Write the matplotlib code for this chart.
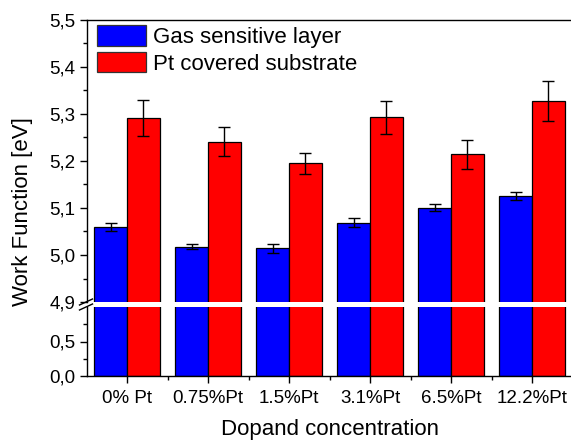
import matplotlib
matplotlib.use("Agg")
import matplotlib.pyplot as plt
import numpy as np
from matplotlib.ticker import FuncFormatter, MultipleLocator, FixedLocator
from matplotlib.lines import Line2D

plt.rcParams['font.family'] = ['Liberation Sans', 'DejaVu Sans']

categories = ["0% Pt", "0.75%Pt", "1.5%Pt", "3.1%Pt", "6.5%Pt", "12.2%Pt"]
gas_layer = [5.060, 5.018, 5.014, 5.069, 5.101, 5.126]
gas_err = [0.008, 0.006, 0.009, 0.009, 0.007, 0.008]
pt_substrate = [5.291, 5.241, 5.195, 5.293, 5.214, 5.328]
pt_err = [0.038, 0.031, 0.023, 0.035, 0.031, 0.043]
series_labels = ["Gas sensitive layer", "Pt covered substrate"]

W, H = 571, 441
fig = plt.figure(figsize=(W / 100, H / 100), dpi=100)

left_px, right_px = 86.5, 572.6
up_top, up_bot = 20, 302
lo_top, lo_bot = 307, 376

def rect(top, bot):
    return [left_px / W, 1 - bot / H, (right_px - left_px) / W, (bot - top) / H]

ax_up = fig.add_axes(rect(up_top, up_bot))
ax_lo = fig.add_axes(rect(lo_top, lo_bot), sharex=ax_up)

x = np.arange(len(categories))
bw = 0.405
blue = "#0000FF"
red = "#FF0000"

for ax in (ax_up, ax_lo):
    ax.bar(x - bw / 2, gas_layer, bw, color=blue, edgecolor="black", linewidth=0.9, label=series_labels[0], zorder=2)
    ax.bar(x + bw / 2, pt_substrate, bw, color=red, edgecolor="black", linewidth=0.9, label=series_labels[1], zorder=2)

ax_up.errorbar(x - bw / 2, gas_layer, yerr=gas_err, fmt="none", ecolor="black", elinewidth=1, capsize=4, capthick=1, zorder=3)
ax_up.errorbar(x + bw / 2, pt_substrate, yerr=pt_err, fmt="none", ecolor="black", elinewidth=1, capsize=4, capthick=1, zorder=3)

ax_up.set_xlim(-0.5, 5.5)
ax_up.set_ylim(4.9, 5.5)
ax_lo.set_ylim(0, 1.0)

comma = FuncFormatter(lambda v, p: f"{v:.1f}".replace(".", ","))

ax_up.yaxis.set_major_locator(MultipleLocator(0.1))
ax_up.yaxis.set_minor_locator(MultipleLocator(0.05))
ax_up.yaxis.set_major_formatter(comma)
ax_lo.yaxis.set_major_locator(FixedLocator([0.0, 0.5]))
ax_lo.yaxis.set_minor_locator(FixedLocator([0.25, 0.75]))
ax_lo.yaxis.set_major_formatter(comma)

ax_lo.set_xticks(x)
ax_lo.set_xticklabels(categories)
ax_lo.xaxis.set_minor_locator(FixedLocator(x[:-1] + 0.5))

for ax in (ax_up, ax_lo):
    ax.spines["right"].set_visible(False)
    for s in ax.spines.values():
        s.set_linewidth(1.0)
    ax.tick_params(axis="both", which="major", direction="out", length=5, width=1, labelsize=13.5, pad=3)
    ax.tick_params(axis="both", which="minor", direction="out", length=3, width=1)

ax_up.spines["bottom"].set_visible(False)
ax_up.tick_params(axis="x", which="both", bottom=False, labelbottom=False)
ax_lo.spines["top"].set_visible(False)
ax_lo.tick_params(axis="x", which="major", pad=5)

ax_lo.set_xlabel("Dopand concentration", fontsize=16, labelpad=9)
fig.text(23 / W, 1 - 212 / H, "Work Function [eV]", rotation=90, fontsize=16, ha="center", va="center")

# break marks
for yc in (up_bot, lo_top):
    fig.add_artist(Line2D([(left_px - 7) / W, (left_px + 6) / W],
                          [1 - (yc + 3) / H, 1 - (yc - 3) / H],
                          color="black", lw=1.0, transform=fig.transFigure))

leg = ax_up.legend(loc="upper left", bbox_to_anchor=((97 - left_px) / (right_px - left_px), 1 - 5 / (up_bot - up_top)),
                   frameon=False, fontsize=16, handlelength=2.2, handleheight=1.05,
                   handletextpad=0.3, labelspacing=0.17, borderpad=0, borderaxespad=0)
for p in leg.get_patches():
    p.set_edgecolor("#333333")

fig.savefig("out.png", dpi=100)
